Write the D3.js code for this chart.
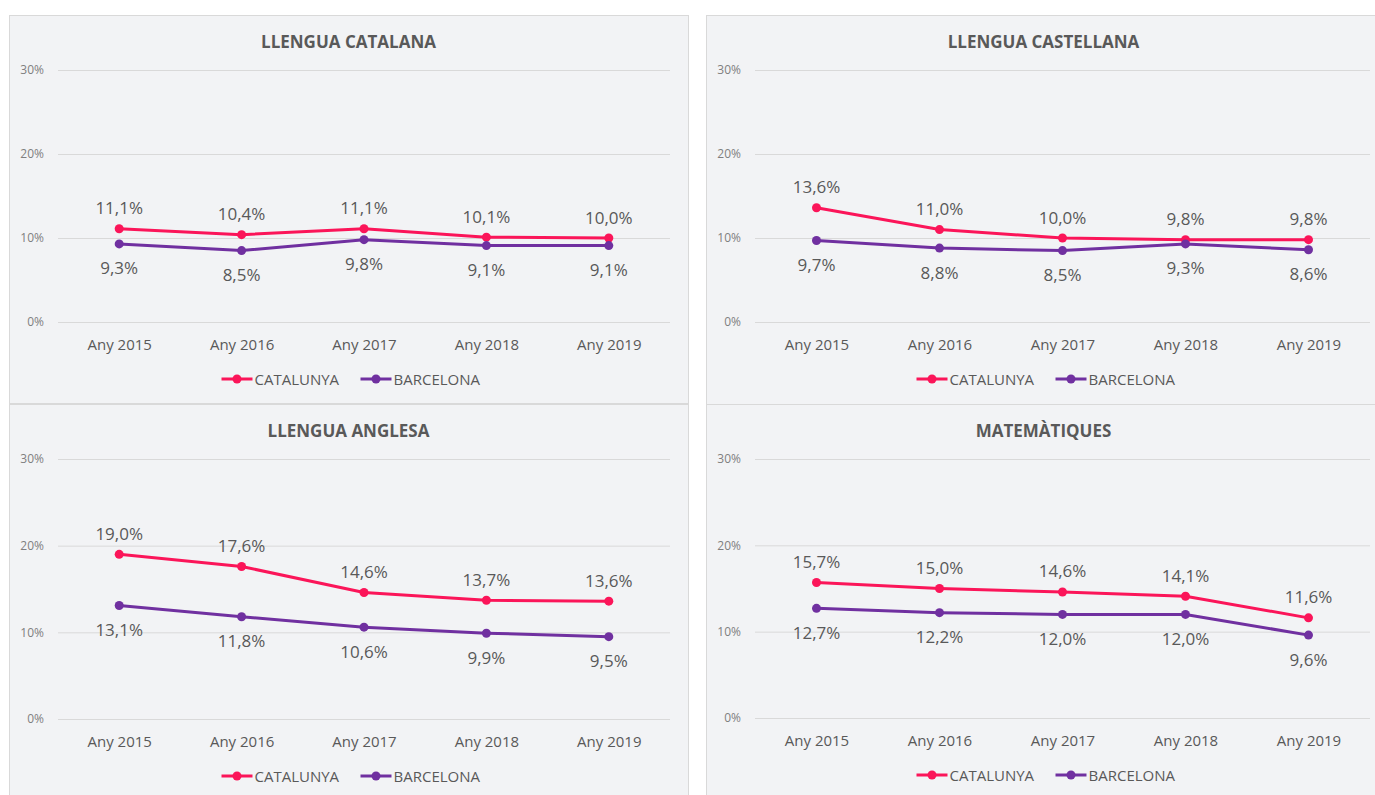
<!DOCTYPE html>
<html>
<head>
<meta charset="utf-8">
<script src="https://cdnjs.cloudflare.com/ajax/libs/d3/7.8.5/d3.min.js"></script>
<style>
  body { margin: 0; background: #fff; }
  svg { display: block; font-family: "Open Sans", "Noto Sans", sans-serif; }
</style>
</head>
<body>
<div id="graph"></div>
<script>
const years = ["Any 2015", "Any 2016", "Any 2017", "Any 2018", "Any 2019"];
const seriesNames = ["CATALUNYA", "BARCELONA"];
const yTicks = [0, 10, 20, 30];

const titles = ["LLENGUA CATALANA", "LLENGUA CASTELLANA", "LLENGUA ANGLESA", "MATEMÀTIQUES"];

const catalanaCat = [11.1, 10.4, 11.1, 10.1, 10.0];
const catalanaBcn = [9.3, 8.5, 9.8, 9.1, 9.1];
const castellanaCat = [13.6, 11.0, 10.0, 9.8, 9.8];
const castellanaBcn = [9.7, 8.8, 8.5, 9.3, 8.6];
const anglesaCat = [19.0, 17.6, 14.6, 13.7, 13.6];
const anglesaBcn = [13.1, 11.8, 10.6, 9.9, 9.5];
const matesCat = [15.7, 15.0, 14.6, 14.1, 11.6];
const matesBcn = [12.7, 12.2, 12.0, 12.0, 9.6];

(function() {
    const W = 1375, H = 795,
      colors = ["#fb1559", "#7030a0"],
      textColor = "#595959";

    const svg = d3.select("#graph").append("svg")
      .attr("width", W)
      .attr("height", H);

    // panel boxes: x, y, w, h, plot width, plot height
    const panels = [
      {x: 9, y: 15, w: 679, h: 388, pw: 612, ph: 252, cat: catalanaCat, bcn: catalanaBcn},
      {x: 706, y: 15, w: 675, h: 389, pw: 615, ph: 252, cat: castellanaCat, bcn: castellanaBcn},
      {x: 9, y: 404, w: 679, h: 400, pw: 612, ph: 260, cat: anglesaCat, bcn: anglesaBcn},
      {x: 706, y: 404, w: 675, h: 400, pw: 615, ph: 259, cat: matesCat, bcn: matesBcn}
    ];

    const fmt = v => v.toFixed(1).replace(".", ",") + "%";

    const drawPanel = (p, i) => {
        const g = svg.append("g").attr("transform", `translate(${p.x},${p.y})`);

        g.append("rect")
          .attr("x", 0.5).attr("y", 0.5)
          .attr("width", p.w).attr("height", p.h)
          .attr("fill", "#f2f3f5")
          .attr("stroke", "#d9d9d9");

        g.append("text")
          .attr("x", p.w / 2).attr("y", 26)
          .attr("text-anchor", "middle")
          .attr("dominant-baseline", "central")
          .attr("font-size", "17px")
          .attr("font-weight", "bold")
          .attr("fill", textColor)
          .text(titles[i]);

        const left = 49, top = 55;
        const plot = g.append("g").attr("transform", `translate(${left},${top})`);

        const x = d3.scalePoint().domain(years).range([0, p.pw]).padding(0.5);
        const y = d3.scaleLinear().domain([0, 30]).range([p.ph, 0]);

        // gridlines + tick labels
        const yAxis = plot.append("g")
          .call(d3.axisLeft(y).tickValues(yTicks).tickSize(-p.pw).tickPadding(14).tickFormat(d => d + "%"));
        yAxis.select(".domain").remove();
        yAxis.selectAll(".tick line").attr("stroke", "#d9d9d9");
        yAxis.selectAll(".tick text")
          .attr("fill", "#7f7f7f")
          .attr("font-size", "12px")
          .attr("font-family", "Open Sans, sans-serif");

        const xAxis = plot.append("g")
          .attr("transform", `translate(0,${p.ph})`)
          .call(d3.axisBottom(x).tickSize(0).tickPadding(23));
        xAxis.select(".domain").remove();
        xAxis.selectAll(".tick text")
          .attr("fill", textColor)
          .attr("font-size", "15px")
          .attr("dy", "0.35em")
          .attr("y", 23)
          .attr("font-family", "Open Sans, sans-serif");

        const line = d3.line().x((d, j) => x(years[j])).y(d => y(d));

        [p.cat, p.bcn].forEach((vals, s) => {
            plot.append("path")
              .datum(vals)
              .attr("d", line)
              .attr("fill", "none")
              .attr("stroke", colors[s])
              .attr("stroke-width", 3)
              .attr("stroke-linejoin", "round");

            plot.selectAll(".pt" + s)
              .data(vals)
              .enter().append("circle")
              .attr("cx", (d, j) => x(years[j]))
              .attr("cy", d => y(d))
              .attr("r", 4.5)
              .attr("fill", colors[s]);

            plot.selectAll(".lbl" + s)
              .data(vals)
              .enter().append("text")
              .attr("x", (d, j) => x(years[j]))
              .attr("y", d => y(d) + (s === 0 ? -21 : 24))
              .attr("text-anchor", "middle")
              .attr("dominant-baseline", "central")
              .attr("font-size", "17px")
              .attr("fill", textColor)
              .text(d => fmt(d));
        });

        // legend
        const legY = p.ph + 57;
        const legend = plot.append("g").attr("transform", `translate(${p.w / 2 - left - 127},${legY})`);
        const offsets = [0, 139];
        seriesNames.forEach((name, s) => {
            const lg = legend.append("g").attr("transform", `translate(${offsets[s]},0)`);
            lg.append("line")
              .attr("x1", 0).attr("x2", 31)
              .attr("stroke", colors[s])
              .attr("stroke-width", 3);
            lg.append("circle").attr("cx", 15.5).attr("r", 4.5).attr("fill", colors[s]);
            lg.append("text")
              .attr("x", 33)
              .attr("dominant-baseline", "central")
              .attr("font-size", "15px")
              .attr("fill", textColor)
              .text(name);
        });
    };

    panels.forEach(drawPanel);
})();
</script>
</body>
</html>
